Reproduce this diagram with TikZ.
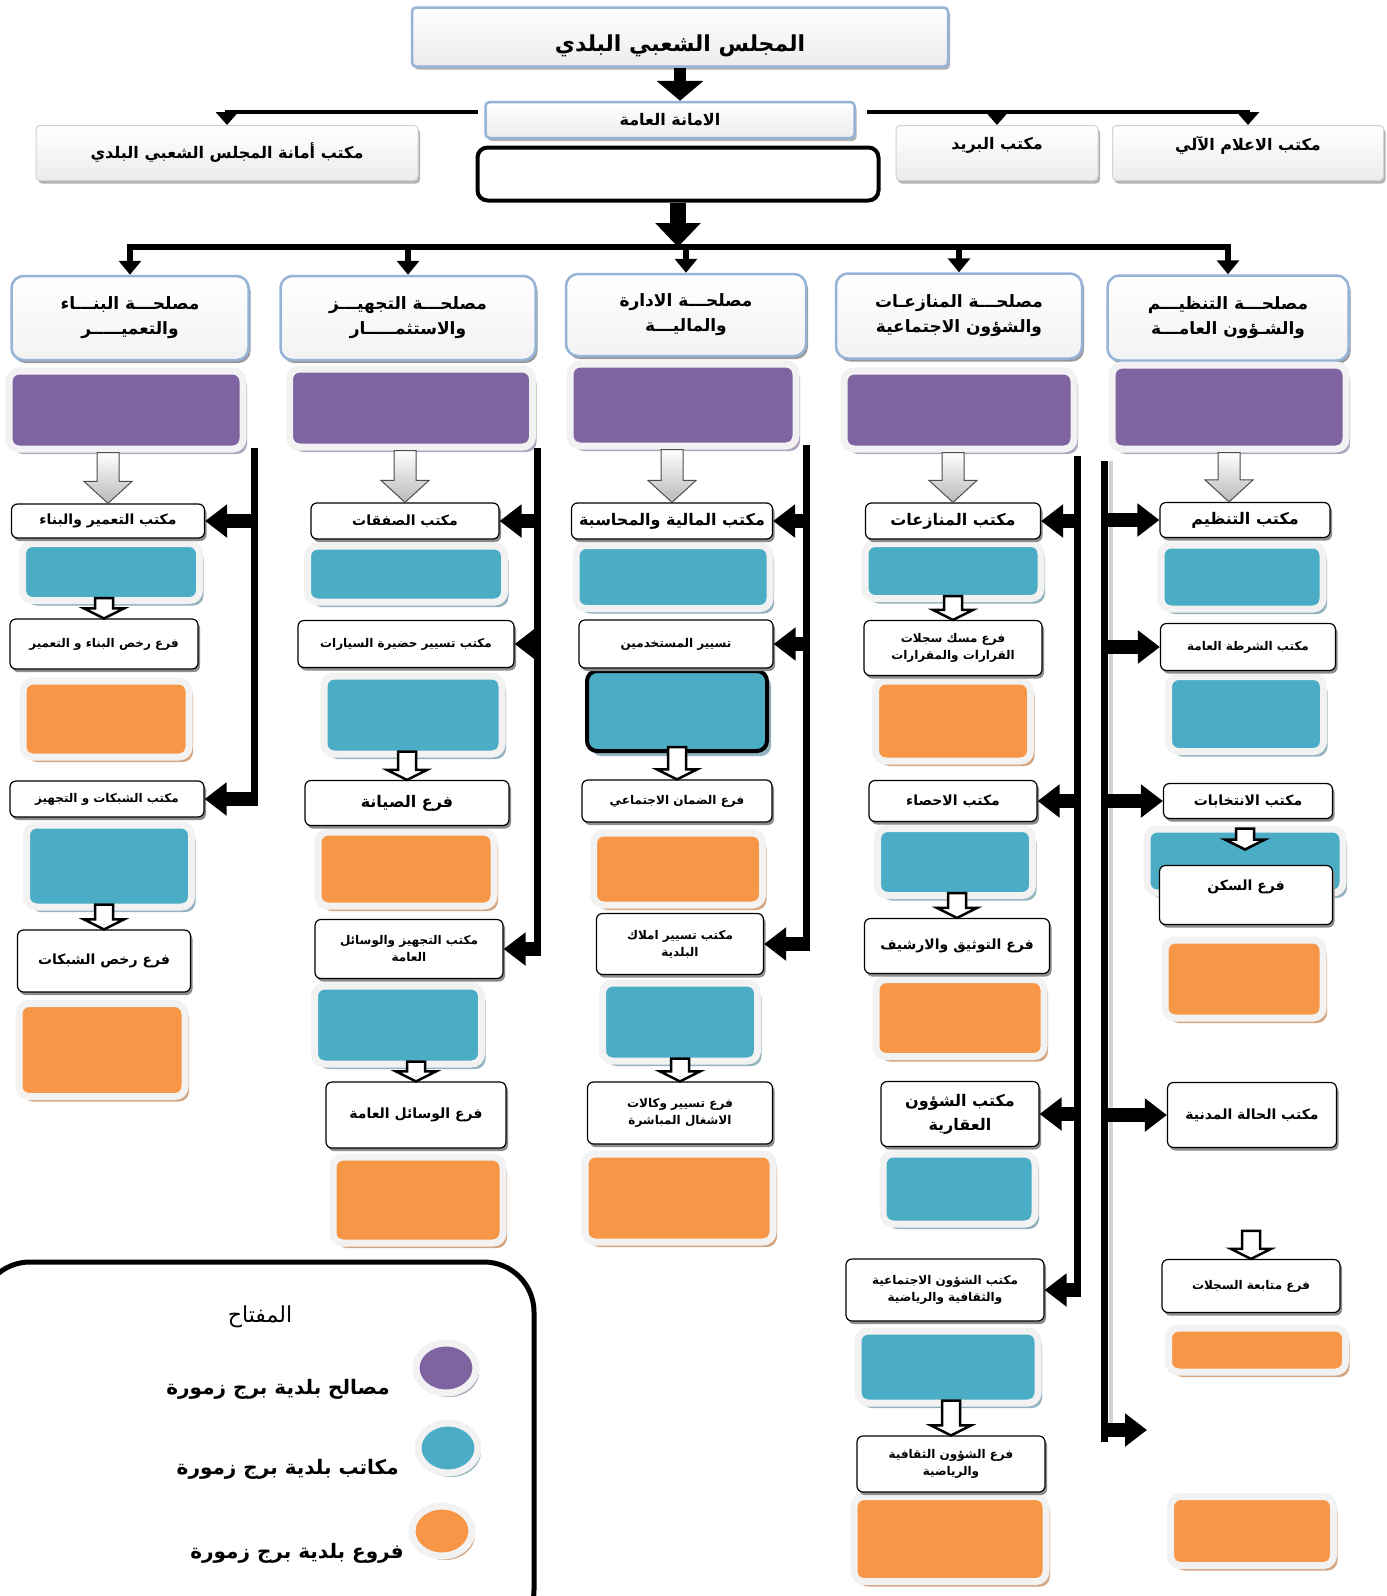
\documentclass[tikz,border=0pt]{standalone}
\usepackage{fontspec}
\newfontfamily\arabicfont[Script=Arabic]{DejaVu Sans}
\TeXXeTstate=1
\usetikzlibrary{arrows.meta}
\usetikzlibrary{calc}
\usetikzlibrary{shadows}
\usetikzlibrary{shapes.geometric}
\definecolor{mpurple}{RGB}{128,100,162}
\definecolor{mpurpleS}{RGB}{176,164,190}
\definecolor{mblue}{RGB}{75,172,198}
\definecolor{mblueS}{RGB}{146,178,190}
\definecolor{morange}{RGB}{247,150,70}
\definecolor{morangeS}{RGB}{212,166,130}
\definecolor{mframe}{RGB}{242,242,242}
\definecolor{glow}{RGB}{149,179,215}
\newcommand{\ar}[1]{\beginR #1\endR}
% block arrow from #2 down to #3 (x of #3), shaft/head half widths #4/#5, head length #6
\newcommand{\blockarrow}[6]{%
  \path[#1] let \p1=#2, \p2=#3 in
    (\x2-#4pt,\y1) -- (\x2-#4pt,\y2+#6pt) -- (\x2-#5pt,\y2+#6pt) -- (\x2,\y2)
    -- (\x2+#5pt,\y2+#6pt) -- (\x2+#4pt,\y2+#6pt) -- (\x2+#4pt,\y1) -- cycle;}

\begin{document}
\begin{tikzpicture}[x=1pt,y=-1pt,
sz/.style 2 args={minimum width=#1pt,minimum height=#2pt},
office/.style={rectangle,rounded corners=6pt,draw=black,line width=1.2pt,fill=white,align=center,inner sep=1pt,
  font=\arabicfont\bfseries\fontsize{14}{19}\selectfont,
  drop shadow={shadow xshift=2pt,shadow yshift=-3pt,fill=black!45,opacity=1}},
small/.style={font=\arabicfont\bfseries\fontsize{12}{17}\selectfont},
big/.style={font=\arabicfont\bfseries\fontsize{16}{24}\selectfont},
header/.style={rectangle,rounded corners=12pt,draw=glow,line width=2.5pt,top color=white,bottom color=gray!10,align=center,
  font=\arabicfont\bfseries\fontsize{17}{25}\selectfont,
  drop shadow={shadow xshift=2pt,shadow yshift=-3pt,fill=black!40,opacity=1}},
topbox/.style={rectangle,rounded corners=4pt,top color=white,bottom color=gray!15,draw=gray!35,line width=1pt,align=center,
  font=\arabicfont\bfseries\fontsize{16}{19}\selectfont,
  drop shadow={shadow xshift=2pt,shadow yshift=-3pt,fill=black!30,opacity=1}},
tile/.style={rectangle,rounded corners=10pt,draw=mframe,line width=7pt,fill=#1,
  drop shadow={shadow xshift=4pt,shadow yshift=-5pt,fill=#1S,opacity=1}},
dot/.style={ellipse,draw=mframe,line width=7pt,fill=#1,sz={60}{50},
  drop shadow={shadow xshift=3pt,shadow yshift=-4pt,fill=#1S,opacity=1}},
keytext/.style={font=\arabicfont\bfseries\fontsize{20}{24}\selectfont,inner sep=0pt},
bigarrow/.style={line width=12pt,-{Triangle[width=46pt,length=20pt]}},
hubarrow/.style={line width=6pt,-{Triangle[width=22pt,length=14pt]}},
toparrow/.style={line width=4pt,-{Triangle[width=22pt,length=13pt]}},
sidearrow/.style={line width=14pt,-{Triangle[width=32pt,length=22pt]}},
bar/.style={line width=7pt},
grayarrow/.style={top color=white,bottom color=gray!55,draw=gray!60!black,line width=1pt},
hollowarrow/.style={fill=white,draw=black,line width=2.5pt,line join=miter}]

\fill[white] (0,0) rectangle (1387,1596);
\useasboundingbox (0,0) rectangle (1387,1596);

% top of the chart
\node[topbox,draw=glow,line width=2.5pt,font=\arabicfont\bfseries\fontsize{22}{24}\selectfont,sz={536}{59}](council) at (680,37){\raisebox{-14pt}[0pt][0pt]{\ar{المجلس الشعبي البلدي}}};
\node[topbox,draw=glow,line width=2.5pt,sz={369}{36}](general) at (670,120){\ar{الامانة العامة}};
\node[topbox,sz={382}{55}](secoff) at (227,153){\ar{مكتب أمانة المجلس الشعبي البلدي}};
\node[topbox,sz={202}{55}](post) at (997,153){\ar{مكتب البريد}\\ \mbox{}};
\node[topbox,sz={271}{55}](it) at (1248,153){\ar{مكتب الاعلام الآلي}\\ \mbox{}};
\node[rectangle,rounded corners=10pt,draw=black,line width=4pt,fill=white,sz={401}{53}](blank) at (678,174){};

\coordinate (gl) at (478,112);
\coordinate (gr) at (867,112);
\coordinate (hub) at (678,247);

\draw[bigarrow] (council.south)--(council.south |- general.north);
\draw[toparrow] (gl)-|(secoff.north);
\draw[toparrow] (gr)-|(post.north);
\draw[toparrow] (gr)-|(it.north);
\draw[line width=16pt,-{Triangle[width=44pt,length=24pt]}] (blank)--(hub);

% services
\node[header,sz={237}{84}](h1) at (130,318){\ar{مصلحـــة البنـــاء}\\\ar{والتعميـــــر}};
\node[header,sz={255}{84}](h2) at (408,318){\ar{مصلحـــة التجهيـــز}\\\ar{والاستثمـــــار}};
\node[header,sz={240}{82}](h3) at (686,315){\ar{مصلحـــة الادارة}\\\ar{والماليـــة}};
\node[header,sz={246}{85}](h4) at (959,316){\ar{مصلحـــة المنازعـات}\\\ar{والشؤون الاجتماعية}};
\node[header,sz={241}{85}](h5) at (1228,318){\ar{مصلحـــة التنظيـــم}\\\ar{والشـؤون العامـــة}};

\foreach \h in {h1,h2,h3,h4,h5}
  \draw[hubarrow] (hub)-|(\h.north);

\node[tile=mpurple,sz={234}{78}](p1) at (126,410){};
\node[tile=mpurple,sz={243}{78}](p2) at (411,408){};
\node[tile=mpurple,sz={226}{82}](p3) at (683,405){};
\node[tile=mpurple,sz={230}{78}](p4) at (959,410){};
\node[tile=mpurple,sz={234}{84}](p5) at (1229,407){};

% column 1
\node[tile=mblue,sz={177}{57}](b11) at (111,572){};
\node[tile=morange,sz={166}{76}](r11) at (106,719){};
\node[tile=mblue,sz={165}{82}](b12) at (109,866){};
\node[tile=morange,sz={166}{93}](r12) at (102,1050){};
\node[office,sz={193}{34}](o11) at (108,521){\ar{مكتب التعمير والبناء}};
\node[office,small,sz={188}{50}](f11) at (104,644){\ar{فرع رخص البناء و التعمير}};
\node[office,small,sz={194}{36}](o12) at (107,799){\ar{مكتب الشبكات و التجهيز}};
\node[office,sz={173}{62}](f12) at (104,961){\ar{فرع رخص الشبكات}};

% column 2
\node[tile=mblue,sz={197}{56}](b21) at (406,574){};
\node[tile=mblue,sz={178}{78}](b22) at (413,715){};
\node[tile=morange,sz={176}{74}](r21) at (406,869){};
\node[tile=mblue,sz={167}{78}](b23) at (398,1025){};
\node[tile=morange,sz={170}{86}](r22) at (418,1200){};
\node[office,sz={188}{36}](o21) at (405,521){\ar{مكتب الصفقات}};
\node[office,small,sz={216}{47}](o22) at (406,644){\ar{مكتب تسيير حضيرة السيارات}};
\node[office,big,sz={204}{45}](f21) at (407,803){\ar{فرع الصيانة}};
\node[office,small,sz={188}{59}](o23) at (409,949){\ar{مكتب التجهيز والوسائل}\\\ar{العامة}};
\node[office,sz={180}{66}](f22) at (416,1115){\ar{فرع الوسائل العامة}};

% column 3
\node[tile=mblue,sz={194}{63}](b31) at (673,577){};
\node[tile=mblue,draw=black,line width=4pt,sz={180}{80}](b32) at (677,711){};
\node[tile=morange,sz={169}{72}](r31) at (678,869){};
\node[tile=mblue,sz={155}{78}](b33) at (680,1022){};
\node[tile=morange,sz={188}{88}](r32) at (679,1198){};
\node[office,big,sz={201}{36}](o31) at (672,521){\ar{مكتب المالية والمحاسبة}};
\node[office,small,sz={194}{48}](o32) at (676,644){\ar{تسيير المستخدمين}};
\node[office,small,sz={190}{42}](f31) at (677,801){\ar{فرع الضمان الاجتماعي}};
\node[office,small,sz={167}{61}](o33) at (680,944){\ar{مكتب تسيير املاك}\\\ar{البلدية}};
\node[office,small,sz={185}{62}](f32) at (680,1113){\ar{فرع تسيير وكالات}\\\ar{الاشغال المباشرة}};

% column 4
\node[tile=mblue,sz={176}{55}](b41) at (953,571){};
\node[tile=morange,sz={155}{80}](r41) at (953,721){};
\node[tile=mblue,sz={155}{67}](b42) at (955,862){};
\node[tile=morange,sz={168}{77}](r42) at (960,1018){};
\node[tile=mblue,sz={152}{70}](b43) at (959,1189){};
\node[tile=mblue,sz={180}{72}](b44) at (948,1367){};
\node[tile=morange,sz={192}{85}](r43) at (950,1539){};
\node[office,big,sz={175}{36}](o41) at (953,521){\ar{مكتب المنازعات}};
\node[office,small,sz={178}{55}](f41) at (953,648){\ar{فرع مسك سجلات}\\\ar{القرارات والمقرارات}};
\node[office,sz={168}{41}](o42) at (953,801){\ar{مكتب الاحصاء}};
\node[office,sz={185}{55}](f42) at (957,946){\ar{فرع التوثيق والارشيف}};
\node[office,big,sz={158}{65}](o43) at (960,1114){\ar{مكتب الشؤون}\\\ar{العقارية}};
\node[office,small,sz={198}{62}](o44) at (945,1290){\ar{مكتب الشؤون الاجتماعية}\\\ar{والثقافية والرياضية}};
\node[office,small,sz={188}{56}](f43) at (951,1464){\ar{فرع الشؤون الثقافية}\\\ar{والرياضية}};

% column 5
\node[tile=mblue,sz={162}{64}](b51) at (1242,577){};
\node[tile=mblue,sz={155}{75}](b52) at (1246,714){};
\node[tile=mblue,sz={196}{64}](b53) at (1245,861){};
\node[tile=morange,sz={158}{78}](r51) at (1244,979){};
\node[tile=morange,sz={177}{44}](r52) at (1257,1350){};
\node[tile=morange,sz={163}{69}](r53) at (1252,1531){};
\node[office,big,sz={170}{35}](o51) at (1245,520){\ar{مكتب التنظيم}};
\node[office,small,sz={175}{47}](o52) at (1248,647){\ar{مكتب الشرطة العامة}};
\node[office,sz={169}{35}](o53) at (1248,801){\ar{مكتب الانتخابات}};
\node[office,sz={173}{59}](f51) at (1246,895){\ar{فرع السكن}\\ \mbox{}};
\node[office,sz={169}{65}](o54) at (1252,1115){\ar{مكتب الحالة المدنية}};
\node[office,small,sz={178}{53}](f52) at (1251,1286){\ar{فرع متابعة السجلات}};

% gray arrows under the services
\blockarrow{grayarrow}{(p1.south)}{(o11.north)}{11}{24}{22}
\blockarrow{grayarrow}{(p2.south)}{(o21.north)}{11}{24}{22}
\blockarrow{grayarrow}{(p3.south)}{(o31.north)}{11}{24}{22}
\blockarrow{grayarrow}{(p4.south)}{(o41.north)}{11}{24}{22}
\blockarrow{grayarrow}{(p5.south)}{(p5.south |- o51.north)}{11}{24}{22}

% office to branch
\blockarrow{hollowarrow}{([yshift=6pt]b11.south)}{(f11.north)}{9}{20}{10}
\blockarrow{hollowarrow}{([yshift=6pt]b12.south)}{(f12.north)}{9}{20}{10}
\blockarrow{hollowarrow}{([yshift=6pt]b22.south)}{(f21.north)}{9}{20}{10}
\blockarrow{hollowarrow}{([yshift=6pt]b23.south)}{(f22.north)}{9}{20}{10}
\blockarrow{hollowarrow}{([yshift=6pt]b32.south)}{(f31.north)}{9}{20}{10}
\blockarrow{hollowarrow}{([yshift=6pt]b33.south)}{(f32.north)}{9}{20}{10}
\blockarrow{hollowarrow}{([yshift=6pt]b41.south)}{(f41.north)}{9}{20}{10}
\blockarrow{hollowarrow}{([yshift=6pt]b42.south)}{(f42.north)}{9}{20}{10}
\blockarrow{hollowarrow}{([yshift=6pt]b44.south)}{(f43.north)}{9}{20}{10}
\blockarrow{hollowarrow}{([yshift=-3pt]b53.north)}{([yshift=-24pt]b53.north)}{9}{20}{10}
\blockarrow{hollowarrow}{([yshift=28pt]f52.north)}{(f52.north)}{9}{20}{10}

% side bars
\coordinate (bar1) at (254,448);
\coordinate (bar2) at (537,448);
\coordinate (bar3) at (806,445);
\coordinate (bar4) at (1077,456);
\coordinate (bar5) at (1104,461);
\coordinate (free) at (1147,1430);

\draw[bar,shorten >=-7pt] (bar1)--(bar1 |- o12.east);
\draw[bar,shorten >=-7pt] (bar2)--(bar2 |- o23.east);
\draw[bar,shorten >=-7pt] (bar3)--(bar3 |- o33.east);
\draw[bar,shorten >=-7pt] (bar4)--(bar4 |- o44.east);
\draw[line width=4pt,gray!35] ([xshift=7pt]bar5)--([xshift=7pt]bar5 |- free);
\draw[bar,shorten >=-12pt] (bar5)--(bar5 |- free);

\begin{scope}[sidearrow]
\draw (bar1 |- o11.east)--(o11.east);
\draw (bar1 |- o12.east)--(o12.east);
\draw (bar2 |- o21.east)--(o21.east);
\draw (bar2 |- o22.east)--(o22.east);
\draw (bar2 |- o23.east)--(o23.east);
\draw (bar3 |- o31.east)--(o31.east);
\draw (bar3 |- o32.east)--(o32.east);
\draw (bar3 |- o33.east)--(o33.east);
\draw (bar4 |- o41.east)--(o41.east);
\draw (bar4 |- o42.east)--(o42.east);
\draw (bar4 |- o43.east)--(o43.east);
\draw (bar4 |- o44.east)--(o44.east);
\draw (bar5 |- o51.west)--(o51.west);
\draw (bar5 |- o52.west)--(o52.west);
\draw (bar5 |- o53.west)--(o53.west);
\draw (bar5 |- o54.west)--(o54.west);
\draw (bar5 |- free)--(free);
\end{scope}

% key
\node[draw=black,line width=5pt,rounded corners=50pt,sz={554}{378}](key) at (257,1451){};
\node[keytext,font=\arabicfont\fontsize{22}{24}\selectfont](keytitle) at (260,1317){\ar{المفتاح}};
\node[dot=mpurple](k1) at (446,1368){};
\node[dot=mblue](k2) at (448,1448){};
\node[dot=morange](k3) at (442,1531){};
\node[keytext,anchor=east](t1) at (390,1389){\ar{مصالح بلدية برج زمورة}};
\node[keytext,anchor=east](t2) at (399,1469){\ar{مكاتب بلدية برج زمورة}};
\node[keytext,anchor=east](t3) at (404,1553){\ar{فروع بلدية برج زمورة}};

\end{tikzpicture}
\end{document}
